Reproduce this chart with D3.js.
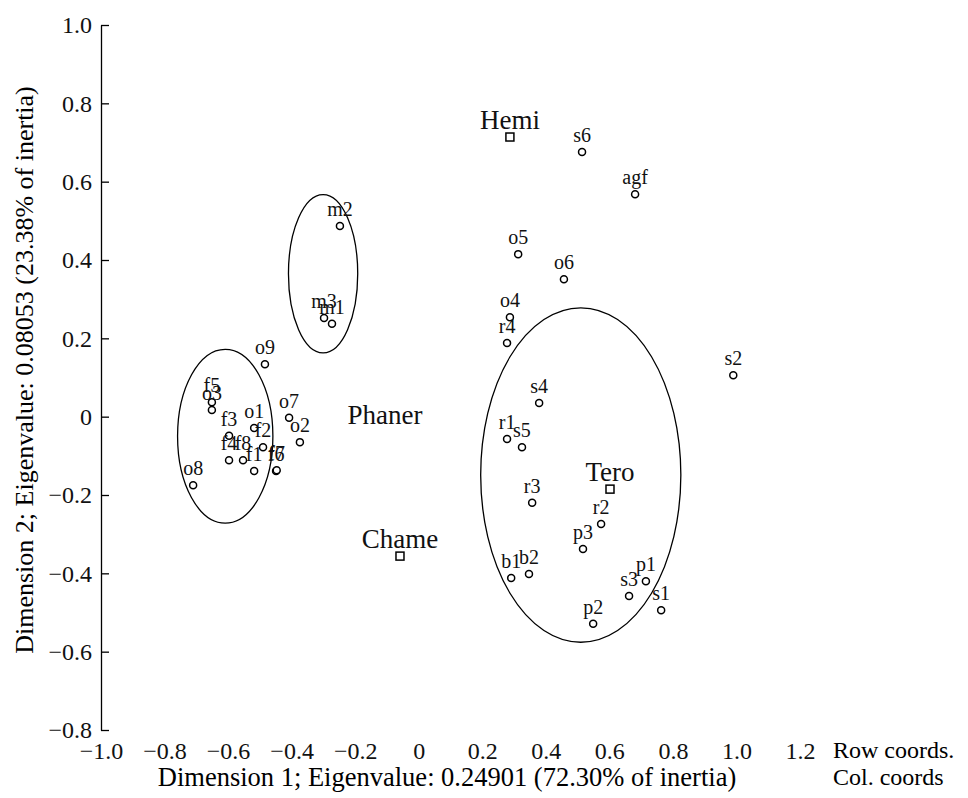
<!DOCTYPE html>
<html>
<head>
<meta charset="utf-8">
<script src="https://cdn.jsdelivr.net/npm/d3@7"></script>
<style>
	body { margin: 0; background: #fff; }
	svg { display: block; font-family: "Liberation Serif", "Times New Roman", serif; }
	.axis .domain { stroke: #000; stroke-width: 1.3; }
	.axis line { stroke: #000; stroke-width: 1.3; }
	.axis text { font-family: "Liberation Serif", serif; font-size: 24px; fill: #111; }
</style>
</head>
<body>
<svg id="chart" width="968" height="798"></svg>
<script>
"use strict";

// row coordinates (circles)
var rowNames = ["s6", "agf", "o5", "o6", "o4", "r4", "s4", "s2", "r1", "s5", "r3", "r2", "p3",
	"b1", "b2", "p1", "s3", "s1", "p2", "m2", "m3", "m1", "o9", "f5", "o3", "f3", "o1", "f2",
	"f4", "f8", "f1", "f6", "f7", "o7", "o2", "o8"];
var rowX = [0.514, 0.681, 0.313, 0.457, 0.287, 0.278, 0.379, 0.990, 0.278, 0.325, 0.357, 0.574, 0.517,
	0.291, 0.347, 0.715, 0.662, 0.763, 0.549, -0.248, -0.298, -0.273, -0.484, -0.651, -0.651, -0.597, -0.518, -0.490,
	-0.597, -0.553, -0.518, -0.449, -0.447, -0.408, -0.374, -0.710];
var rowY = [0.676, 0.568, 0.415, 0.351, 0.254, 0.188, 0.035, 0.106, -0.057, -0.078, -0.220, -0.274, -0.338,
	-0.412, -0.402, -0.420, -0.458, -0.494, -0.529, 0.487, 0.252, 0.237, 0.134, 0.037, 0.017, -0.049, -0.029, -0.078,
	-0.111, -0.111, -0.139, -0.139, -0.137, -0.003, -0.065, -0.175];

// column coordinates (squares); Phaner shows its label only
var colNames = ["Hemi", "Tero", "Chame", "Phaner"];
var colX = [0.287, 0.602, -0.059, -0.106];
var colY = [0.714, -0.185, -0.356, -0.039];
var colMarker = [true, true, true, false];

// group ellipses: centre and radii in data units
var ellCx = [-0.609, -0.301, 0.510];
var ellCy = [-0.050, 0.365, -0.149];
var ellRx = [0.150, 0.109, 0.315];
var ellRy = [0.222, 0.202, 0.427];

var xTicks = [-1.0, -0.8, -0.6, -0.4, -0.2, 0, 0.2, 0.4, 0.6, 0.8, 1.0, 1.2];
var yTicks = [1.0, 0.8, 0.6, 0.4, 0.2, 0, -0.2, -0.4, -0.6, -0.8];

var xTitle = "Dimension 1; Eigenvalue: 0.24901 (72.30% of inertia)";
var yTitle = "Dimension 2; Eigenvalue: 0.08053 (23.38% of inertia)";
var legendTexts = ["Row coords.", "Col. coords"];

document.addEventListener("DOMContentLoaded", init);

function init() {
	var svg = d3.select("#chart");

	var x = d3.scaleLinear().domain([-1.0, 1.2]).range([101, 800]);
	var y = d3.scaleLinear().domain([-0.8, 1.0]).range([730, 25]);
	var fmt = d => d === 0 ? "0" : d3.format(".1f")(d);

	// y axis, ticks pointing inward
	svg.append("g")
	   .attr("class", "axis")
	   .attr("transform", "translate(101,0)")
	   .call(d3.axisLeft(y).tickValues(yTicks).tickFormat(fmt).tickSize(-8).tickSizeOuter(0).tickPadding(9));

	// x axis: labels only
	var xa = svg.append("g")
	   .attr("class", "axis")
	   .attr("transform", "translate(0,730)")
	   .call(d3.axisBottom(x).tickValues(xTicks).tickFormat(fmt).tickSize(0).tickPadding(12));
	xa.select(".domain").remove();

	svg.append("text")
	   .attr("x", 447)
	   .attr("y", 786)
	   .attr("text-anchor", "middle")
	   .style("font-size", "26.5px")
	   .text(xTitle);

	svg.append("text")
	   .attr("transform", "translate(33,370) rotate(-90)")
	   .attr("text-anchor", "middle")
	   .style("font-size", "26px")
	   .text(yTitle);

	svg.selectAll(".legend")
	   .data(legendTexts)
	   .enter()
	   .append("text")
	   .attr("class", "legend")
	   .attr("x", 833)
	   .attr("y", (d, i) => 758 + i * 27)
	   .style("font-size", "24px")
	   .text(d => d);

	// ellipses
	var ells = d3.range(ellCx.length);
	svg.append("g")
	   .selectAll("ellipse")
	   .data(ells)
	   .enter()
	   .append("ellipse")
	   .attr("cx", i => x(ellCx[i]))
	   .attr("cy", i => y(ellCy[i]))
	   .attr("rx", i => x(ellRx[i]) - x(0))
	   .attr("ry", i => y(0) - y(ellRy[i]))
	   .attr("fill", "none")
	   .attr("stroke", "#000")
	   .attr("stroke-width", 1.3);

	// row points
	var rows = rowNames.map((n, i) => ({name: n, x: rowX[i], y: rowY[i]}));
	var rg = svg.append("g");
	rg.selectAll("circle")
	  .data(rows)
	  .enter()
	  .append("circle")
	  .attr("cx", d => x(d.x))
	  .attr("cy", d => y(d.y))
	  .attr("r", 3.5)
	  .attr("fill", "#fff")
	  .attr("stroke", "#000")
	  .attr("stroke-width", 1.5);
	rg.selectAll("text")
	  .data(rows)
	  .enter()
	  .append("text")
	  .attr("x", d => x(d.x))
	  .attr("y", d => y(d.y) - 10)
	  .attr("text-anchor", "middle")
	  .style("font-size", "20px")
	  .style("fill", "#111")
	  .text(d => d.name);

	// column points
	var cols = colNames.map((n, i) => ({name: n, x: colX[i], y: colY[i], mark: colMarker[i]}));
	var cg = svg.append("g");
	cg.selectAll("rect")
	  .data(cols.filter(d => d.mark))
	  .enter()
	  .append("rect")
	  .attr("x", d => x(d.x) - 4)
	  .attr("y", d => y(d.y) - 4)
	  .attr("width", 8)
	  .attr("height", 8)
	  .attr("fill", "#fff")
	  .attr("stroke", "#000")
	  .attr("stroke-width", 1.5);
	cg.selectAll("text")
	  .data(cols)
	  .enter()
	  .append("text")
	  .attr("x", d => x(d.x))
	  .attr("y", d => y(d.y) - 8)
	  .attr("text-anchor", "middle")
	  .style("font-size", "27px")
	  .style("fill", "#111")
	  .text(d => d.name);
}
</script>
</body>
</html>
